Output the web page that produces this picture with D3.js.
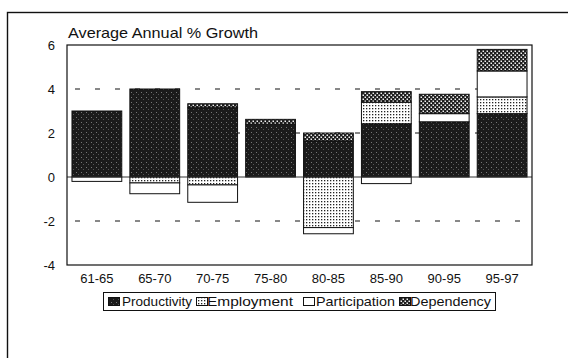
<!DOCTYPE html>
<html><head><meta charset="utf-8">
<script src="https://cdn.jsdelivr.net/npm/d3@7"></script>
<style>
html,body{margin:0;padding:0;background:#fff;}
svg{display:block;font-family:"Liberation Sans",Arial,sans-serif;}
</style></head>
<body><svg id="c" width="568" height="358"></svg>
<script>
const categories = ["61-65","65-70","70-75","75-80","80-85","85-90","90-95","95-97"];
const seriesNames = ["Productivity","Employment","Participation","Dependency"];
const productivity  = [3.0, 4.0, 3.15, 2.4, 1.64, 2.42, 2.51, 2.88];
const employment    = [0.0, -0.27, -0.36, 0.0, -2.3, 0.98, 0.0, 0.76];
const participation = [-0.2, -0.49, -0.79, 0.0, -0.28, -0.3, 0.37, 1.18];
const dependency    = [0.0, 0.0, 0.18, 0.22, 0.36, 0.48, 0.88, 0.98];
const yTicks = [-4,-2,0,2,4,6];
const yTickLabels = ["-4","-2","0","2","4","6"];
const gridValues = [-2,2,4];
const title = "Average Annual % Growth";

const svg = d3.select("#c");
const defs = svg.append("defs");
const pP = defs.append("pattern").attr("id","pProd").attr("width",5).attr("height",5).attr("patternUnits","userSpaceOnUse");
pP.append("rect").attr("width",5).attr("height",5).attr("fill","#1b1b1b");
pP.append("rect").attr("x",1).attr("y",2).attr("width",1).attr("height",1).attr("fill","#777");
pP.append("rect").attr("x",3).attr("y",4).attr("width",1).attr("height",1).attr("fill","#555");
const pE = defs.append("pattern").attr("id","pEmp").attr("width",3).attr("height",3).attr("patternUnits","userSpaceOnUse");
pE.append("rect").attr("width",3).attr("height",3).attr("fill","#fff");
pE.append("rect").attr("x",0).attr("y",0).attr("width",1.3).attr("height",1.3).attr("fill","#222");
const pD = defs.append("pattern").attr("id","pDep").attr("width",4).attr("height",4).attr("patternUnits","userSpaceOnUse");
pD.append("rect").attr("width",4).attr("height",4).attr("fill","#1e1e1e");
pD.append("rect").attr("x",0.5).attr("y",0.5).attr("width",1.5).attr("height",1.5).attr("fill","#f2f2f2");
pD.append("rect").attr("x",2.5).attr("y",2.5).attr("width",1.5).attr("height",1.5).attr("fill","#f2f2f2");
const fills = {Productivity:"url(#pProd)",Employment:"url(#pEmp)",Participation:"#fff",Dependency:"url(#pDep)"};

svg.append("rect").attr("x",7.5).attr("y",12.5).attr("width",600).attr("height",400)
  .attr("fill","none").attr("stroke","#111").attr("stroke-width",1.4);

const L=67, R=532, T=45, B=265;
const x = d3.scaleBand().domain(categories).range([L,R]).paddingInner(0.14).paddingOuter(0.086);
const y = d3.scaleLinear().domain([-4,6]).range([B,T]);

svg.append("text").attr("x",L+1).attr("y",38).attr("font-size",15).attr("fill","#111")
  .attr("textLength",190).attr("lengthAdjust","spacingAndGlyphs").text(title);

svg.append("g").selectAll("line").data(gridValues).join("line")
  .attr("x1",L).attr("x2",R).attr("y1",d=>y(d)).attr("y2",d=>y(d))
  .attr("stroke","#111").attr("stroke-width",1).attr("stroke-dasharray","5,15").attr("stroke-dashoffset",-8);

const table = categories.map((c,i)=>({cat:c,Productivity:productivity[i],Employment:employment[i],Participation:participation[i],Dependency:dependency[i]}));
const stack = d3.stack().keys(seriesNames).offset(d3.stackOffsetDiverging);
const layers = stack(table);
svg.append("g").selectAll("g").data(layers).join("g")
  .attr("fill",d=>fills[d.key])
  .selectAll("rect").data(d=>d.filter(s=>s[1]!==s[0])).join("rect")
  .attr("x",d=>x(d.data.cat)).attr("width",x.bandwidth())
  .attr("y",d=>y(Math.max(d[0],d[1]))).attr("height",d=>Math.abs(y(d[0])-y(d[1])))
  .attr("stroke","#111").attr("stroke-width",1);

svg.append("line").attr("x1",L).attr("x2",R).attr("y1",y(0)).attr("y2",y(0))
  .attr("stroke","#333").attr("stroke-width",1);

svg.append("rect").attr("x",L).attr("y",T).attr("width",R-L).attr("height",B-T)
  .attr("fill","none").attr("stroke","#111").attr("stroke-width",1.2);

const yAxis = d3.axisLeft(y).tickValues(yTicks).tickSize(0).tickPadding(12)
  .tickFormat((d,i)=>yTickLabels[i]);
const ya = svg.append("g").attr("transform",`translate(${L},0)`).call(yAxis);
ya.select(".domain").remove();
ya.selectAll("text").attr("font-size",13).attr("fill","#111").attr("font-family","Liberation Sans,Arial,sans-serif");

const xAxis = d3.axisBottom(x).tickSize(0).tickPadding(9);
const xa = svg.append("g").attr("transform",`translate(0,${B})`).call(xAxis);
xa.select(".domain").remove();
xa.selectAll("text").attr("font-size",13).attr("fill","#111").attr("font-family","Liberation Sans,Arial,sans-serif");

const lg = svg.append("g");
lg.append("rect").attr("x",103.5).attr("y",292.5).attr("width",392).attr("height",18)
  .attr("fill","#fff").attr("stroke","#111").attr("stroke-width",1);
const legX = [108,196,303,399];
const legTextX = [122,207,316,410];
const legTextW = [70,86,79,81];
seriesNames.forEach((s,i)=>{
  lg.append("rect").attr("x",legX[i]+0.5).attr("y",297.5).attr("width",11).attr("height",8)
    .attr("fill",fills[s]).attr("stroke","#111").attr("stroke-width",1);
  lg.append("text").attr("x",legTextX[i]).attr("y",306).attr("font-size",13.5).attr("fill","#111")
    .attr("textLength",legTextW[i]).attr("lengthAdjust","spacingAndGlyphs").text(s);
});
</script></body></html>
